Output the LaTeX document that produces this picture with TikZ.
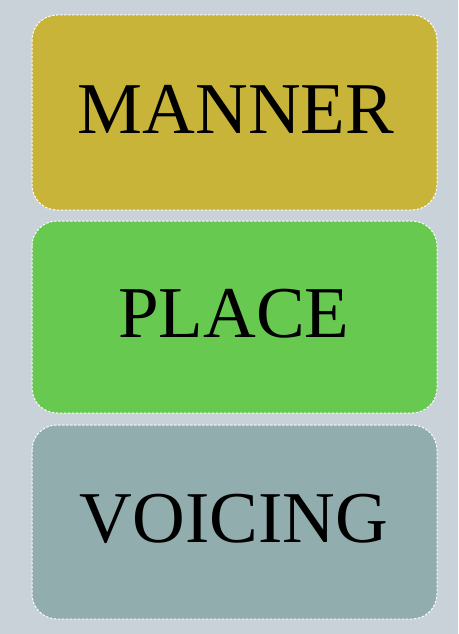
\documentclass[tikz,border=0pt]{standalone}
\usepackage{fontspec}
\setmainfont{Liberation Serif}
\definecolor{bgc}{RGB}{201,209,217}
\definecolor{mannerc}{RGB}{201,180,58}
\definecolor{placec}{RGB}{104,201,80}
\definecolor{voicec}{RGB}{146,173,173}
\tikzset{
  catbox/.style={draw=white, dash pattern=on 2.5pt off 1.5pt, line width=1pt, rounded corners=25pt},
  cattext/.style={anchor=base, inner sep=0pt, font=\fontsize{73}{80}\selectfont, text=black}
}
\begin{document}
\begin{tikzpicture}[x=1pt,y=-1pt]
\fill[bgc] (0,0) rectangle (458,634);
\useasboundingbox (0,0) rectangle (458,634);
\filldraw[catbox, fill=mannerc] (32,15) rectangle (437,210);
\filldraw[catbox, fill=placec] (32,221) rectangle (437,413);
\filldraw[catbox, fill=voicec] (32,425) rectangle (437,619);
\node[cattext] (manner) at (236,133) {MANNER};
\node[cattext] (place) at (234,337) {PLACE};
\node[cattext] (voicing) at (234,542) {VOICING};
\end{tikzpicture}
\end{document}
